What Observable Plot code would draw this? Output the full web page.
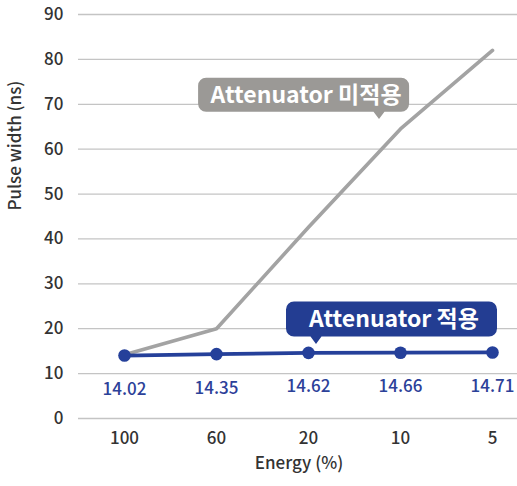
<!DOCTYPE html>
<html><head><meta charset="utf-8">
<script src="https://cdn.jsdelivr.net/npm/d3@7"></script>
<script src="https://cdn.jsdelivr.net/npm/@observablehq/plot@0.6"></script>
<style>body{margin:0;background:#fff}</style>
</head><body><div id="chart"></div>
<script>
// ---- data ----
const energy = ["100", "60", "20", "10", "5"];
const withoutAttenuator = [14.2, 20, 42.6, 64.5, 82];
const withAttenuator = [14.02, 14.35, 14.62, 14.66, 14.71];
const yTicks = [0, 10, 20, 30, 40, 50, 60, 70, 80, 90];
const seriesLabels = ["Attenuator 미적용", "Attenuator 적용"];
const calloutAnchorEnergy = ["10", "20"];
const calloutAnchorValue = [64.5, 14.62];
const xTitle = "Energy (%)";
const yTitle = "Pulse width (ns)";

// ---- tables built from the arrays ----
const grayData = energy.map((e, i) => ({energy: e, value: withoutAttenuator[i]}));
const blueData = energy.map((e, i) => ({energy: e, value: withAttenuator[i]}));

const GRAY = "#a3a3a3", GRAY_BOX = "#9b9996", BLUE = "#25409a", BLUE_BOX = "#233d92", LABEL_BLUE = "#2c4199";
const FONT = "'Noto Sans CJK KR', 'Noto Sans', sans-serif";

// callout styling (pixel offsets from the anchor point)
const calloutStyle = [
  {fill: GRAY_BOX, boxDx: -96.4, boxDy: -33.7, w: 211, h: 34, tipDx: -21, tipDy: -9.4},
  {fill: BLUE_BOX, boxDx: 83.5, boxDy: -33.4, w: 211, h: 35, tipDx: 8, tipDy: -8.4}
];

const chart = Plot.plot({
  width: 517,
  height: 486,
  marginLeft: 78,
  marginRight: 0,
  marginTop: 14,
  marginBottom: 68,
  style: {fontSize: "17px", fontFamily: FONT, fontWeight: 500, color: "#333", background: "#fff"},
  x: {type: "point", domain: energy, range: [124, 492], padding: 0, tickSize: 0, tickPadding: 13, label: null},
  y: {domain: [0, 90], ticks: yTicks, tickSize: 0, tickPadding: 15, label: null, tickFormat: d3.format("d")},
  marks: [
    Plot.ruleY(yTicks, {stroke: "#c4c4c4", strokeWidth: 1.3}),
    Plot.line(grayData, {x: "energy", y: "value", stroke: GRAY, strokeWidth: 3.6, strokeLinecap: "round", strokeLinejoin: "round"}),
    Plot.line(blueData, {x: "energy", y: "value", stroke: BLUE, strokeWidth: 3.8}),
    Plot.dot(blueData, {x: "energy", y: "value", r: 6.3, fill: BLUE}),
    Plot.text(blueData, {x: "energy", y: "value", text: d => d.value.toFixed(2), dy: 34, fill: LABEL_BLUE, fontSize: 17}),
    Plot.text([xTitle], {frameAnchor: "bottom", text: d => d, dy: 50, dx: 1, fill: "#333", fontSize: 17}),
    Plot.text([yTitle], {frameAnchor: "left", text: d => d, dx: -63, dy: -6, rotate: -90, fill: "#333", fontSize: 17}),
    ...seriesLabels.map((lab, i) =>
      Plot.text([{energy: calloutAnchorEnergy[i], value: calloutAnchorValue[i], label: lab}], {
        x: "energy", y: "value", text: "label",
        dx: calloutStyle[i].boxDx + 2, dy: calloutStyle[i].boxDy,
        fill: "#fff", fontSize: 23, fontWeight: "bold"
      })
    )
  ]
});

document.getElementById("chart").appendChild(chart);

// ---- callout boxes drawn behind the labels, positioned through Plot's scales ----
const sx = chart.scale("x"), sy = chart.scale("y");
const fx = d3.scalePoint().domain(sx.domain).range(sx.range).padding(0);
const fy = d3.scaleLinear().domain(sy.domain).range(sy.range);

function calloutPath(cx, cy, w, h, r, tx, ty) {
  const l = cx - w / 2, rr = cx + w / 2, t = cy - h / 2, b = cy + h / 2, hw = 5.5;
  return `M${l + r},${t}H${rr - r}A${r},${r} 0 0 1 ${rr},${t + r}V${b - r}A${r},${r} 0 0 1 ${rr - r},${b}` +
    `H${tx + hw}L${tx},${ty}L${tx - hw},${b}H${l + r}A${r},${r} 0 0 1 ${l},${b - r}V${t + r}A${r},${r} 0 0 1 ${l + r},${t}Z`;
}

const textGroups = Array.from(chart.querySelectorAll('g[aria-label="text"]'));
const firstCallout = textGroups[textGroups.length - 2];
const boxG = document.createElementNS("http://www.w3.org/2000/svg", "g");
chart.insertBefore(boxG, firstCallout);
calloutStyle.forEach((s, i) => {
  const ax = fx(calloutAnchorEnergy[i]), ay = fy(calloutAnchorValue[i]);
  d3.select(boxG).append("path")
    .attr("d", calloutPath(ax + s.boxDx, ay + s.boxDy, s.w, s.h, 8, ax + s.tipDx, ay + s.tipDy))
    .attr("fill", s.fill);
});
</script>
</body></html>
